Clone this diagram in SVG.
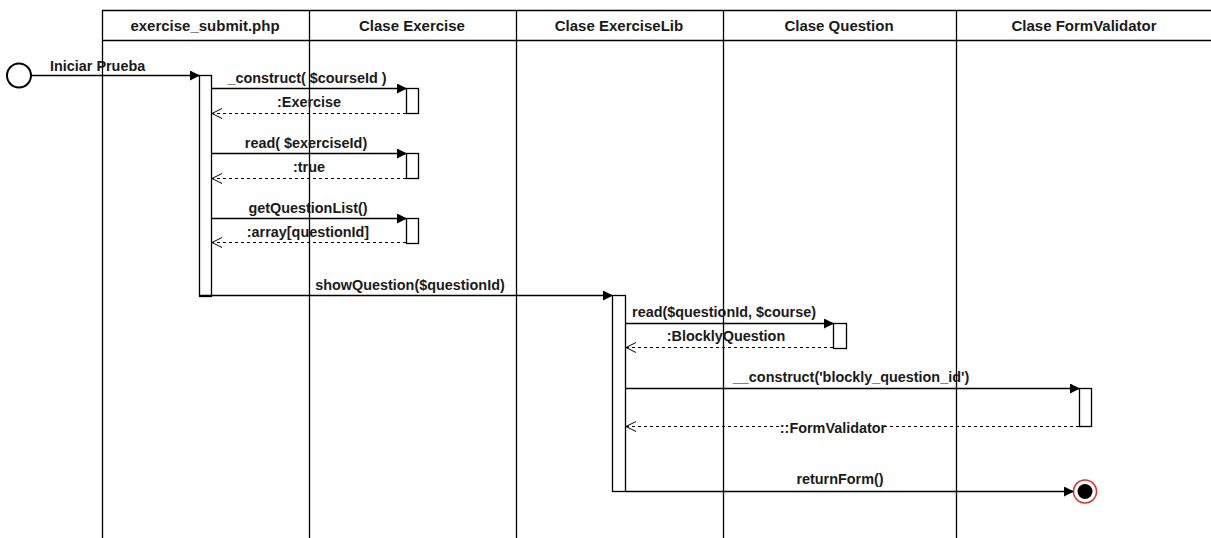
<svg xmlns="http://www.w3.org/2000/svg" width="1211" height="538" viewBox="0 0 1211 538">
<style>
.ln{stroke:#000;stroke-width:1.3;fill:none}
.act{fill:#fff;stroke:#000;stroke-width:1.3}
.msg{stroke:#000;stroke-width:1.3;fill:none}
.ret{stroke:#000;stroke-width:1.1;fill:none;stroke-dasharray:3,3}
.h{font-family:"Liberation Sans",Arial,sans-serif;font-size:15px;font-weight:bold;fill:#1a1a1a;text-anchor:middle}
.t{font-family:"Liberation Sans",Arial,sans-serif;font-size:14.4px;font-weight:bold;fill:#1a1a1a;text-anchor:middle}
</style>
<defs>
<marker id="fill" markerWidth="10" markerHeight="10" refX="9" refY="5" orient="auto" markerUnits="userSpaceOnUse"><path d="M0,0 L10,5 L0,10 z" fill="#000"/></marker>
<marker id="open" markerWidth="12" markerHeight="12" refX="11" refY="6" orient="auto" markerUnits="userSpaceOnUse"><path d="M1,1 L11,6 L1,11" fill="none" stroke="#000" stroke-width="1"/></marker>
</defs>
<rect width="1211" height="538" fill="#fff"/>
<g id="header">
<line class="ln" x1="102" y1="10.5" x2="1211" y2="10.5"/>
<line class="ln" x1="102" y1="40.5" x2="1211" y2="40.5"/>
</g>
<g id="lifelines">
<line class="ln" x1="102.5" y1="10" x2="102.5" y2="538"/>
<line class="ln" x1="309.5" y1="10" x2="309.5" y2="538"/>
<line class="ln" x1="516.5" y1="10" x2="516.5" y2="538"/>
<line class="ln" x1="723.5" y1="10" x2="723.5" y2="538"/>
<line class="ln" x1="956.5" y1="10" x2="956.5" y2="538"/>
</g>
<g id="n-submit"><text class="h" x="205" y="31">exercise_submit.php</text><rect class="act" x="199.5" y="75.5" width="12" height="221"/></g>
<g id="n-exercise"><text class="h" x="412" y="31">Clase Exercise</text>
<rect class="act" x="406.5" y="88.5" width="12" height="25"/>
<rect class="act" x="406.5" y="153.5" width="12" height="25"/>
<rect class="act" x="406.5" y="218.5" width="12" height="25"/></g>
<g id="n-exerciselib"><text class="h" x="619" y="31">Clase ExerciseLib</text><rect class="act" x="612.5" y="295.5" width="13" height="196"/></g>
<g id="n-question"><text class="h" x="839" y="31">Clase Question</text><rect class="act" x="833.5" y="323.5" width="13" height="25"/></g>
<g id="n-formvalidator"><text class="h" x="1084" y="31">Clase FormValidator</text><rect class="act" x="1079.5" y="388.5" width="12" height="38"/></g>
<g id="n-start"><circle cx="19" cy="75.5" r="12" fill="#fff" stroke="#000" stroke-width="2"/></g>
<g id="n-end"><circle cx="1085" cy="491.5" r="11.5" fill="#fff" stroke="#e03030" stroke-width="1.5"/><circle cx="1085" cy="491.5" r="7.5" fill="#000"/></g>
<g id="connectors">
<line class="msg" x1="31" y1="75.5" x2="199" y2="75.5" marker-end="url(#fill)"/>
<text class="t" x="50" y="71" text-anchor="start" style="text-anchor:start">Iniciar Prueba</text>
<line class="msg" x1="211" y1="88.5" x2="406" y2="88.5" marker-end="url(#fill)"/>
<text class="t" x="307" y="83">_construct( $courseId )</text>
<line class="ret" x1="406" y1="113.5" x2="212" y2="113.5" marker-end="url(#open)"/>
<text class="t" x="309" y="107">:Exercise</text>
<line class="msg" x1="211" y1="153.5" x2="406" y2="153.5" marker-end="url(#fill)"/>
<text class="t" x="306" y="148">read( $exerciseId)</text>
<line class="ret" x1="406" y1="178.5" x2="212" y2="178.5" marker-end="url(#open)"/>
<text class="t" x="309" y="172">:true</text>
<line class="msg" x1="211" y1="218.5" x2="406" y2="218.5" marker-end="url(#fill)"/>
<text class="t" x="308" y="213">getQuestionList()</text>
<line class="ret" x1="406" y1="242.5" x2="212" y2="242.5" marker-end="url(#open)"/>
<text class="t" x="308" y="237">:array[questionId]</text>
<line class="msg" x1="199" y1="295.5" x2="612" y2="295.5" marker-end="url(#fill)"/>
<text class="t" x="410" y="290">showQuestion($questionId)</text>
<line class="msg" x1="626" y1="323.5" x2="833" y2="323.5" marker-end="url(#fill)"/>
<text class="t" x="724" y="317">read($questionId, $course)</text>
<line class="ret" x1="833" y1="347.5" x2="626" y2="347.5" marker-end="url(#open)"/>
<text class="t" x="726" y="341">:BlocklyQuestion</text>
<line class="msg" x1="626" y1="388.5" x2="1079" y2="388.5" marker-end="url(#fill)"/>
<text class="t" x="851" y="382">__construct('blockly_question_id')</text>
<line class="ret" x1="1079" y1="426.5" x2="626" y2="426.5" marker-end="url(#open)"/>
<rect x="782" y="421" width="102" height="12" fill="#fff"/>
<text class="t" x="833" y="433">::FormValidator</text>
<line class="msg" x1="626" y1="491.5" x2="1073" y2="491.5" marker-end="url(#fill)"/>
<text class="t" x="840" y="484">returnForm()</text>
</g>
</svg>
